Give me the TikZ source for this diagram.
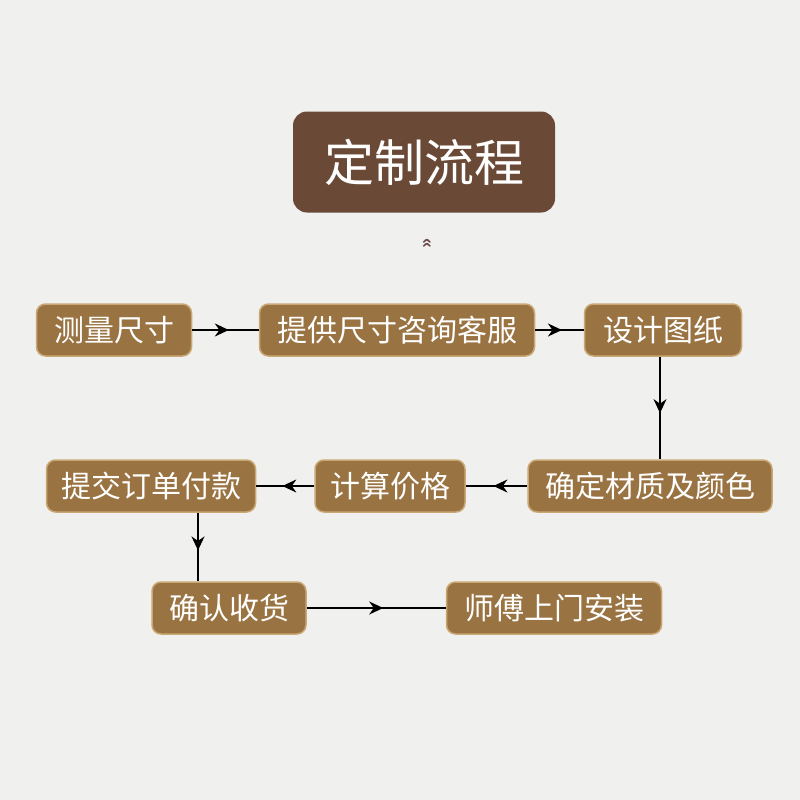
\documentclass[tikz,border=0pt]{standalone}
\usepackage{fontspec}
\newfontfamily\cjk{Noto Sans CJK SC}
\usetikzlibrary{arrows.meta,decorations.markings}
\definecolor{bg}{HTML}{F0F0EE}
\definecolor{boxc}{HTML}{9A7342}
\definecolor{boxe}{HTML}{C9A875}
\definecolor{ttl}{HTML}{6A4A36}
\definecolor{chev}{HTML}{6E4A4C}
\tikzset{
 stepbox/.style={draw=boxe,line width=1.5pt,fill=boxc,rounded corners=9pt,text=white,font=\cjk\fontsize{30}{30}\selectfont,minimum height=52pt,inner xsep=6pt},
 flow/.style={line width=1.6pt,postaction={decorate},decoration={markings,mark=at position 0.55 with {\arrow{Stealth[length=14pt,width=13pt]}}}}
}
\begin{document}
\begin{tikzpicture}[x=1pt,y=-1pt]
\fill[bg] (0,0) rectangle (800,800);
\node[fill=ttl,rounded corners=14pt,text=white,font=\cjk\fontsize{50}{50}\selectfont,minimum width=262pt,minimum height=101pt] (t) at (424,162) {定制流程};
\node[text=chev,font=\cjk\bfseries\fontsize{18}{18}\selectfont,inner sep=0pt] (c) at (428,243) {\rotatebox{90}{»}};
\node[stepbox,minimum width=155pt] (a) at (114,330) {测量尺寸};
\node[stepbox,minimum width=275pt] (b) at (397,330) {提供尺寸咨询客服};
\node[stepbox,minimum width=157pt] (d) at (663,330) {设计图纸};
\node[stepbox,minimum width=244pt] (e) at (650,486) {确定材质及颜色};
\node[stepbox,minimum width=150pt] (f) at (390,486) {计算价格};
\node[stepbox,minimum width=209pt] (g) at (151,486) {提交订单付款};
\node[stepbox,minimum width=154pt] (h) at (229,608) {确认收货};
\node[stepbox,minimum width=215pt] (i) at (554,608) {师傅上门安装};
\draw[flow] (a) -- (b);
\draw[flow] (b) -- (d);
\draw[flow] (d.south -| 660,0) -- (e.north -| 660,0);
\draw[flow] (e) -- (f);
\draw[flow] (f) -- (g);
\draw[flow] (g.south -| 198,0) -- (h.north -| 198,0);
\draw[flow] (h) -- (i);
\end{tikzpicture}
\end{document}
